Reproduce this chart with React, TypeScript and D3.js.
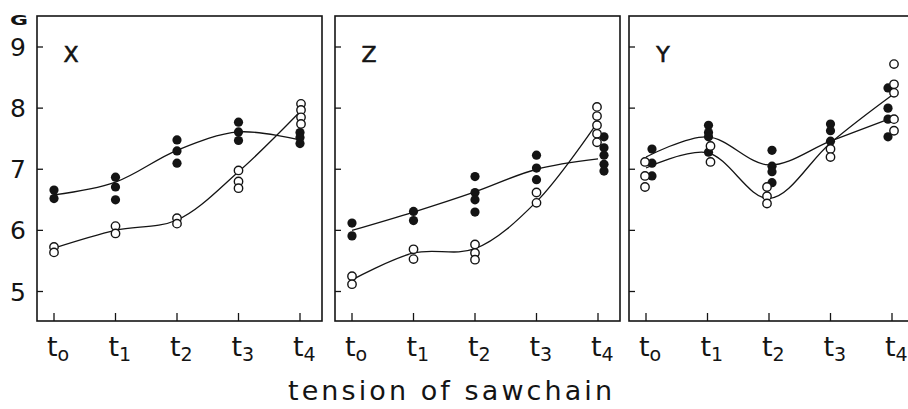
import React from "react";
import * as d3 from "d3";

const categories = ["t0", "t1", "t2", "t3", "t4"];
const subscripts = ["o", "1", "2", "3", "4"];
const yTicks = [5, 6, 7, 8, 9];
const panelNames = ["X", "Z", "Y"];

// X panel
const xFilled = [[6.66, 6.52], [6.87, 6.71, 6.5], [7.48, 7.3, 7.1], [7.77, 7.61, 7.47], [7.6, 7.52, 7.42]];
const xOpen = [[5.73, 5.64], [6.07, 5.95], [6.2, 6.11], [6.98, 6.8, 6.69], [8.07, 7.97, 7.85, 7.74]];
const xLineFilled = [6.58, 6.79, 7.31, 7.61, 7.48];
const xLineOpen = [5.71, 6.0, 6.17, 6.96, 7.94];

// Z panel
const zFilled = [[6.12, 5.91], [6.31, 6.16], [6.88, 6.62, 6.5, 6.3], [7.23, 7.02, 6.83], [7.53, 7.35, 7.23, 7.08, 6.97]];
const zOpen = [[5.25, 5.12], [5.69, 5.53], [5.77, 5.63, 5.52], [6.62, 6.45], [8.02, 7.87, 7.72, 7.58, 7.44]];
const zLineFilled = [6.0, 6.3, 6.63, 7.0, 7.17];
const zLineOpen = [5.19, 5.63, 5.7, 6.47, 7.78];

// Y panel
const yFilled = [[7.33, 7.1, 6.89], [7.72, 7.6, 7.53, 7.28], [7.31, 7.05, 6.96, 6.78], [7.74, 7.63, 7.46], [8.33, 8.0, 7.82, 7.53]];
const yOpen = [[7.12, 6.89, 6.71], [7.38, 7.12], [6.71, 6.56, 6.44], [7.33, 7.2], [8.72, 8.39, 8.25, 7.82, 7.63]];
const yLineFilled = [7.2, 7.53, 7.07, 7.46, 7.84];
const yLineOpen = [7.02, 7.27, 6.52, 7.43, 8.21];

const panels = [
  { name: panelNames[0], filled: xFilled, open: xOpen, lf: xLineFilled, lo: xLineOpen, left: 37, fdx: [0, 0, 0, 0, 0], odx: [0, 0, 0, 0, 1] },
  { name: panelNames[1], filled: zFilled, open: zOpen, lf: zLineFilled, lo: zLineOpen, left: 335, fdx: [0, 0, 0, 0, 6], odx: [0, 0, 0, 0, -1] },
  { name: panelNames[2], filled: yFilled, open: yOpen, lf: yLineFilled, lo: yLineOpen, left: 629, fdx: [6, 1, 3, 0, -4], odx: [-1, 3, -2, 0, 2] },
];

const INK = "#141414";
const FONT = "'DejaVu Sans', sans-serif";
const TOP = 16;
const BOTTOM = 321;
const W = 285;

export default function App() {
  const y = d3.scaleLinear().domain([5, 9]).range([291.5, 47]);
  return (
    <svg width={908} height={409} style={{ position: "absolute", left: 0, top: 0, background: "#fff" }}>
      <text x={19} y={25} fontFamily={FONT} fontWeight="bold" fontSize={14} textAnchor="middle" fill={INK} textLength={18} lengthAdjust="spacingAndGlyphs">G</text>
      {yTicks.map((t) => (
        <text key={t} x={18} y={y(t)} dy="0.36em" fontFamily={FONT} fontSize={25} textAnchor="middle" fill={INK}>{t}</text>
      ))}
      {panels.map((p, pi) => {
        const x = d3.scalePoint().domain(categories).range([p.left + 17, p.left + 263]);
        const line = d3.line<number>()
          .x((_, i) => x(categories[i]) as number)
          .y((v) => y(v))
          .curve(d3.curveCatmullRom.alpha(0.5));
        return (
          <g key={pi}>
            <rect x={p.left} y={TOP} width={W} height={BOTTOM - TOP} fill="none" stroke={INK} strokeWidth={1.6} />
            {yTicks.map((t) => (
              <line key={t} x1={p.left} x2={p.left + 6} y1={y(t)} y2={y(t)} stroke={INK} strokeWidth={1.3} />
            ))}
            {categories.map((c, i) => (
              <g key={c}>
                <line x1={x(c)} x2={x(c)} y1={BOTTOM} y2={BOTTOM - 8} stroke={INK} strokeWidth={1.3} />
                <text x={(x(c) as number) - 7} y={356} fontFamily={FONT} fontSize={27} fill={INK}>
                  t<tspan fontSize={19} dy={5}>{subscripts[i]}</tspan>
                </text>
              </g>
            ))}
            <text x={p.left + 34} y={62} fontFamily={FONT} fontSize={22} textAnchor="middle" fill={INK} stroke={INK} strokeWidth={0.6}>{p.name}</text>
            <path d={line(p.lf) || ""} fill="none" stroke={INK} strokeWidth={1.3} />
            <path d={line(p.lo) || ""} fill="none" stroke={INK} strokeWidth={1.3} />
            {p.filled.map((vals, i) => vals.map((v, j) => (
              <circle key={`f${i}-${j}`} cx={(x(categories[i]) as number) + p.fdx[i]} cy={y(v)} r={4.6} fill={INK} />
            )))}
            {p.open.map((vals, i) => vals.map((v, j) => (
              <circle key={`o${i}-${j}`} cx={(x(categories[i]) as number) + p.odx[i]} cy={y(v)} r={4.2} fill="#fff" stroke={INK} strokeWidth={1.4} />
            )))}
          </g>
        );
      })}
      <text x={450} y={400} fontFamily={FONT} fontSize={27} textAnchor="middle" fill={INK} textLength={324} lengthAdjust="spacing">tension of sawchain</text>
    </svg>
  );
}
